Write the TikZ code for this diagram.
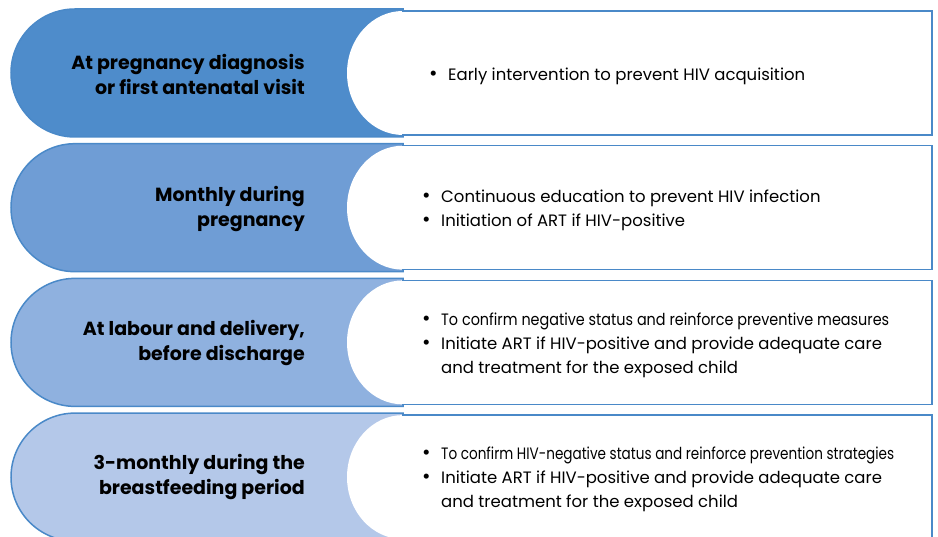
\documentclass[tikz,border=0pt]{standalone}
\usepackage{fontspec}
\setmainfont{Poppins}
\usepackage{graphicx}

\definecolor{edgeblue}{RGB}{74,137,200}
\definecolor{stageA}{RGB}{78,140,203}
\definecolor{stageB}{RGB}{111,157,213}
\definecolor{stageC}{RGB}{143,177,223}
\definecolor{stageD}{RGB}{180,200,233}

\newcommand{\bul}{\makebox[19pt][l]{\scalebox{1.25}{\textbullet}}}
\newcommand{\cont}{\hspace*{19pt}}
\newcommand{\squeeze}[2]{\resizebox{#1}{\height}{#2}}

\begin{document}
\begin{tikzpicture}[x=1pt,y=1pt,
    stage/.style={draw=edgeblue,line width=1.5pt},
    when/.style={anchor=east,align=right,inner sep=0pt,font=\bfseries\fontsize{19}{25}\selectfont},
    todo/.style={anchor=west,align=left,inner sep=0pt,font=\fontsize{16.5}{24}\selectfont}]

    \useasboundingbox (0,0) rectangle (938,537);
    \clip (0,0) rectangle (938,537);

    % coloured bands with the white boxes on top
    \foreach \i/\col in {0/stageA,1/stageB,2/stageC,3/stageD} {
      \pgfmathsetmacro{\t}{528-134.7*\i}
      \pgfmathsetmacro{\b}{\t-128}
      \draw [stage,fill=\col] (75,\t) arc [start angle=90,end angle=270,radius=64]
        -- (403,\b) -- (403,\t) -- cycle;
      \fill [white] (403,\t-2) arc [start angle=90,end angle=270,x radius=56,y radius=62]
        -- (932,\b+2) -- (932,\t-2) -- cycle;
      \draw [stage] (402,\t-2) -- (932,\t-2) -- (932,\b+2) -- (402,\b+2);
    }

    % when
    \node [when] (diagnosis) at (305,462.5) {At pregnancy diagnosis\\or first antenatal visit};
    \node [when] (monthly) at (305,328) {Monthly during\\pregnancy};
    \node [when] (labour) at (305,193.5) {At labour and delivery,\\before discharge};
    \node [when] (feeding) at (305,59.5) {3-monthly during the\\breastfeeding period};

    % what
    \node [todo] (early) at (429,461) {\bul Early intervention to prevent HIV acquisition};
    \node [todo] (education) at (422,327) {\bul Continuous education to prevent HIV infection\\
      \bul Initiation of ART if HIV-positive};
    \node [todo] (confirm) at (422,191.5) {\bul \squeeze{448pt}{To confirm negative status and reinforce preventive measures}\\
      \bul Initiate ART if HIV-positive and provide adequate care\\
      \cont and treatment for the exposed child};
    \node [todo] (reinforce) at (422,57.5) {\bul \squeeze{453pt}{To confirm HIV-negative status and reinforce prevention strategies}\\
      \bul Initiate ART if HIV-positive and provide adequate care\\
      \cont and treatment for the exposed child};

\end{tikzpicture}
\end{document}
